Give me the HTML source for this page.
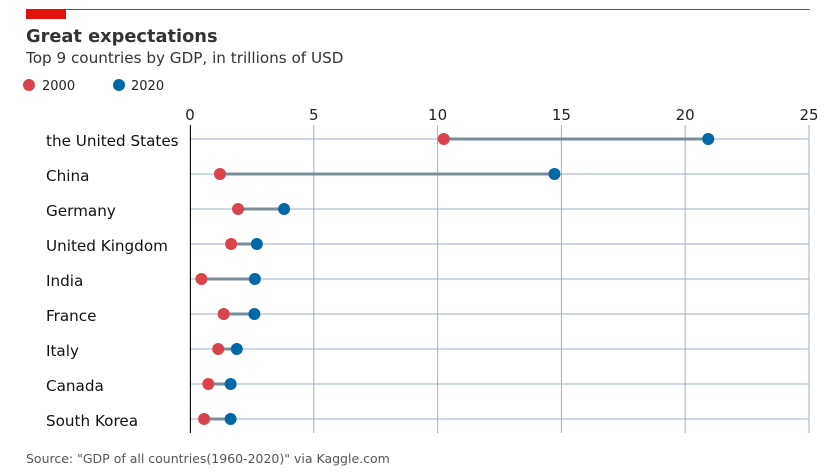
<!DOCTYPE html>
<html><head><meta charset="utf-8"><style>
body{margin:0;background:#fff;font-family:"DejaVu Sans","Liberation Sans",sans-serif;}
svg{display:block;font-family:"DejaVu Sans","Liberation Sans",sans-serif;}
</style></head><body>
<svg id="c" width="828" height="474">
<rect x="26" y="9" width="40" height="10" fill="#e3120b"/>
<line x1="66" y1="9.5" x2="810" y2="9.5" stroke="#555" stroke-width="1"/>
<text x="26" y="42" font-size="17.8" font-weight="bold" fill="#333">Great expectations</text>
<text x="26" y="63" font-size="15.2" fill="#333">Top 9 countries by GDP, in trillions of USD</text>
<g>
<circle cx="29" cy="85" r="6" fill="#d9434b"/>
<text x="42" y="90" font-size="13" fill="#222">2000</text>
<circle cx="119" cy="85" r="6" fill="#0068a5"/>
<text x="131" y="90" font-size="13" fill="#222">2020</text>
</g>
<g id="plot"></g>
<text x="26" y="463" font-size="12.5" fill="#555">Source: "GDP of all countries(1960-2020)" via Kaggle.com</text>
</svg>
<script>
const countries=["the United States","China","Germany","United Kingdom","India","France","Italy","Canada","South Korea"];
const gdp2000=[10.25,1.21,1.94,1.66,0.46,1.36,1.14,0.74,0.57];
const gdp2020=[20.93,14.72,3.8,2.7,2.62,2.6,1.89,1.64,1.64];
const ticks=[0,5,10,15,20,25];
const NS="http://www.w3.org/2000/svg";
const g=document.getElementById("plot");
const x=v=>190+v*(809-190)/25;
const y=i=>139+i*35;
function mk(t,a){const e=document.createElementNS(NS,t);for(const k in a)e.setAttribute(k,a[k]);g.appendChild(e);return e;}
ticks.forEach(t=>{
 const l=mk("line",{x1:x(t),x2:x(t),y1:125,y2:433,stroke:"#9fb0c0","stroke-width":1});
 
 
 const tx=mk("text",{x:x(t),y:120,"text-anchor":"middle","font-size":15,fill:"#222"});tx.textContent=t;
 
 
});
countries.forEach((c,i)=>{
 const l=mk("line",{x1:190,x2:809,y1:y(i),y2:y(i),stroke:"#9fb0c0","stroke-width":1});
 
 
 const tx=mk("text",{x:46,y:y(i)+7,"font-size":15.2,fill:"#111"});tx.textContent=c;
 
 
});
const ax=mk("line",{x1:190.5,x2:190.5,y1:125,y2:433,stroke:"#111","stroke-width":1});


countries.forEach((c,i)=>{
 const l=mk("line",{x1:x(gdp2000[i]),x2:x(gdp2020[i]),y1:y(i),y2:y(i),stroke:"#7a8d99","stroke-width":3});
 
 
 const a=mk("circle",{cx:x(gdp2000[i]),cy:y(i),r:6,fill:"#d9434b"});
 
 
 const b=mk("circle",{cx:x(gdp2020[i]),cy:y(i),r:6,fill:"#0068a5"});
 
 
});
</script>
</body></html>
